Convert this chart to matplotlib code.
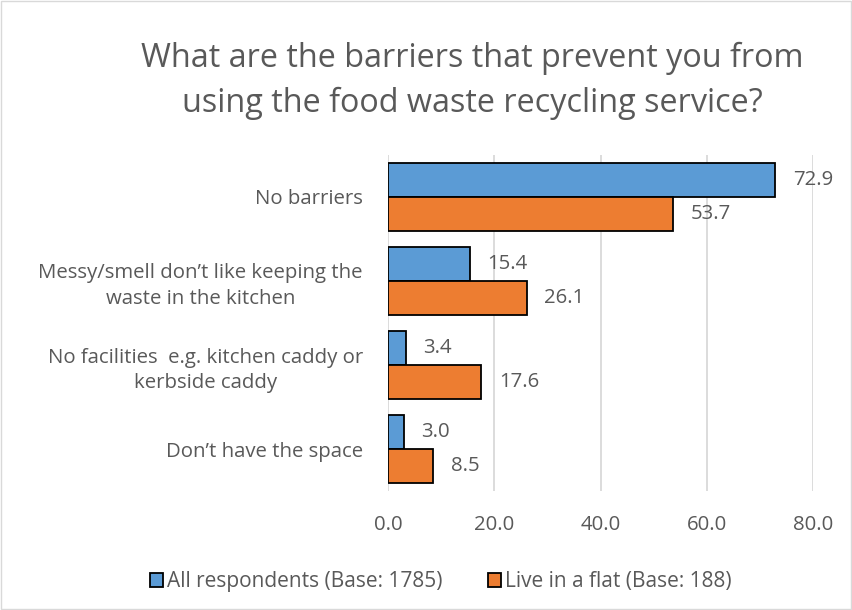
import matplotlib.pyplot as plt
import numpy as np

plt.rcParams['font.family'] = ['Open Sans', 'DejaVu Sans']

categories = ["No barriers",
              "Messy/smell don\u2019t like keeping the\nwaste in the kitchen",
              "No facilities  e.g. kitchen caddy or\nkerbside caddy",
              "Don\u2019t have the space"]
all_resp = [72.9, 15.4, 3.4, 3.0]
flat = [53.7, 26.1, 17.6, 8.5]
series_names = ["All respondents (Base: 1785)", "Live in a flat (Base: 188)"]
ticks = [0, 20, 40, 60, 80]

txt = "#595959"
blue = "#5B9BD5"
orange = "#ED7D31"

fig = plt.figure(figsize=(8.53, 6.10), dpi=100)
ax = fig.add_axes([388/853, 1 - 491/610, (813-388)/853, (491-155)/610])

y = np.arange(len(categories))
h = 0.405
b1 = ax.barh(y - h/2, all_resp, height=h, color=blue, edgecolor="black", linewidth=1.3, label=series_names[0], zorder=3)
b2 = ax.barh(y + h/2, flat, height=h, color=orange, edgecolor="black", linewidth=1.3, label=series_names[1], zorder=3)

for bars, vals in ((b1, all_resp), (b2, flat)):
    for bar, v in zip(bars, vals):
        ax.annotate(f"{v:.1f}", (v, bar.get_y() + bar.get_height()/2), xytext=(12.5, 0),
                    textcoords="offset points", va="center", ha="left", fontsize=14.7, color=txt)

ax.set_xlim(0, 80)
ax.set_ylim(len(categories) - 0.5, -0.5)
ax.set_xticks(ticks)
ax.set_xticklabels([f"{t:.1f}" for t in ticks], fontsize=14.7, color=txt)
ax.set_yticks(y)
ax.set_yticklabels(categories, fontsize=14.7, color=txt, multialignment="center", linespacing=1.35)
ax.tick_params(length=0)
ax.tick_params(axis="y", pad=18)
ax.tick_params(axis="x", pad=17)
ax.grid(axis="x", color="#D9D9D9", linewidth=1.3, zorder=0)
for s in ax.spines.values():
    s.set_visible(False)

fig.text(472/853, 1 - 81/610, "What are the barriers that prevent you from\nusing the food waste recycling service?",
         ha="center", va="center", fontsize=23.3, color=txt, linespacing=1.45)

leg = fig.legend(handles=[b1, b2], loc="center", bbox_to_anchor=(441/853, 1 - 582/610), ncol=2,
                 frameon=False, fontsize=15, handlelength=0.62, handleheight=0.62, handletextpad=0.2,
                 columnspacing=2.2, labelcolor=txt)

fig.patches.append(plt.Rectangle((0.001, 0.001), 0.997, 0.997, transform=fig.transFigure,
                                 fill=False, edgecolor="#D9D9D9", linewidth=1))

fig.savefig("out.png", dpi=100)
